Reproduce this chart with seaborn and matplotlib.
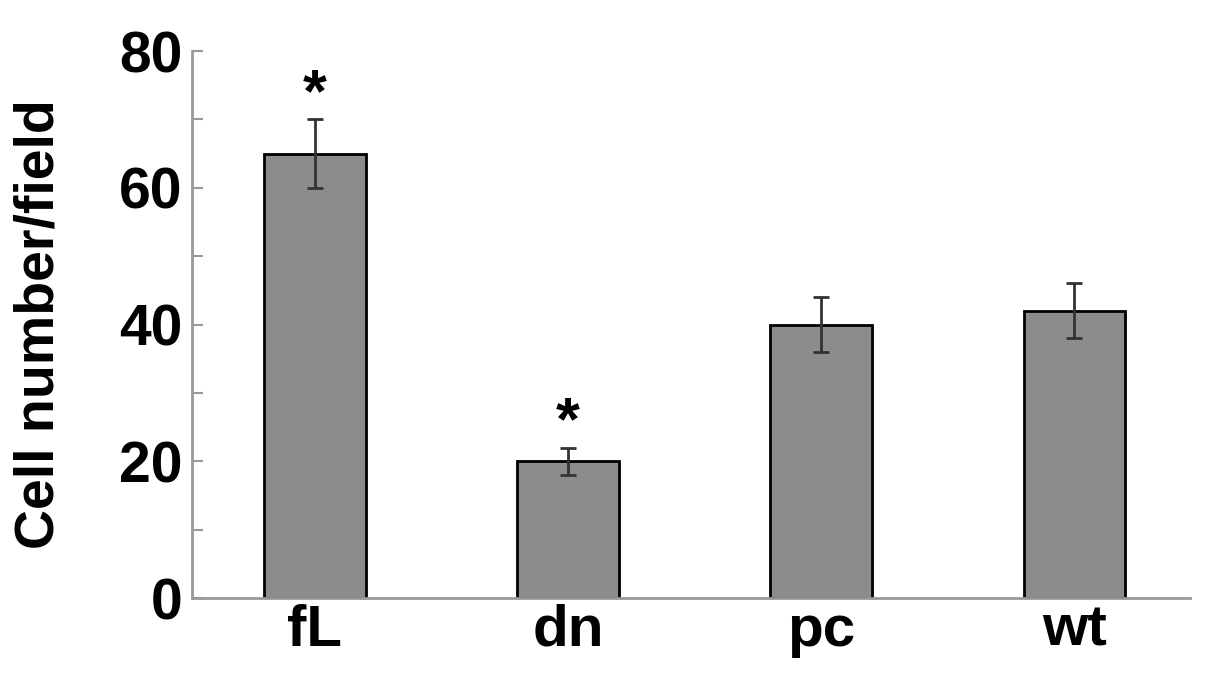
import numpy as np
import pandas as pd
import matplotlib
matplotlib.use("Agg")
import matplotlib.pyplot as plt
import seaborn as sns
from matplotlib.ticker import MultipleLocator

# data
groups = ["fL", "dn", "pc", "wt"]
cell_counts = [65, 20, 40, 42]
errors = [5, 2, 4, 4]
significant = [True, True, False, False]

df = pd.DataFrame({"group": groups, "count": cell_counts})

sns.set_style("white")
plt.rcParams["font.family"] = ["Liberation Sans", "DejaVu Sans"]

fig = plt.figure(figsize=(12.05, 6.85), dpi=100)
ax = fig.add_axes([0.1593, 0.127, 0.8283, 0.7985])

sns.barplot(data=df, x="group", y="count", color="#8c8c8c", saturation=1,
            width=0.4, edgecolor="black", linewidth=2, errorbar=None, ax=ax)
ax.errorbar(np.arange(len(groups)), cell_counts, yerr=errors, fmt="none",
            ecolor="#333333", elinewidth=2, capsize=6, capthick=2)

for i, sig in enumerate(significant):
    if sig:
        ax.text(i, cell_counts[i] + errors[i] + 3.5, "*", ha="center", va="center",
                fontsize=44, fontweight="bold", color="black")

ax.set_ylim(0, 80)
ax.set_xlim(-0.486, 3.458)
ax.yaxis.set_major_locator(MultipleLocator(20))
ax.yaxis.set_minor_locator(MultipleLocator(10))
ax.tick_params(axis="y", which="both", direction="in", length=8, width=1.5,
               color="#999999", labelsize=41, pad=7, left=True, labelcolor="black")
ax.tick_params(axis="x", length=0, labelsize=42, pad=4, labelcolor="black")
for lab in ax.get_xticklabels() + ax.get_yticklabels():
    lab.set_fontweight("bold")

for s in ["top", "right"]:
    ax.spines[s].set_visible(False)
for s in ["left", "bottom"]:
    ax.spines[s].set_color("#999999")
    ax.spines[s].set_linewidth(2)

ax.set_xlabel("")
ax.set_ylabel("Cell number/field", fontsize=40, fontweight="bold", labelpad=38,
              color="black")

fig.savefig("out.png", dpi=100)
